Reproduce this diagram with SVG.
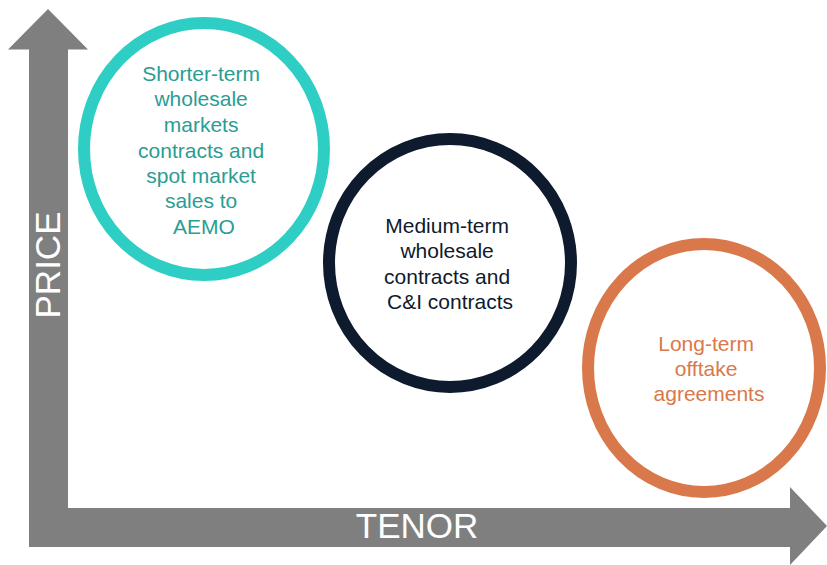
<svg xmlns="http://www.w3.org/2000/svg" width="827" height="565" viewBox="0 0 827 565">
<style>
.ring{fill:#fff;stroke-width:12}
.lbl{font-family:"Liberation Sans",Arial,sans-serif;font-size:21px;text-anchor:middle}
.axis{fill:#7f7f7f}
.axl{font-family:"Liberation Sans",Arial,sans-serif;font-size:35px;fill:#fff;text-anchor:middle}
</style>
<rect width="827" height="565" fill="#fff"/>
<g id="axes">
<polygon class="axis" points="48,9 88,49.5 68,49.5 68,508 790,508 790,487 827,526 790,565 790,547 29,547 29,49.5 8,49.5"/>
<text class="axl" transform="translate(60,265) rotate(-90)">PRICE</text>
<text class="axl" x="417" y="538">TENOR</text>
</g>
<g id="connectors"></g>
<g id="short-term">
<ellipse class="ring" cx="204" cy="149" rx="120" ry="126" stroke="#2ecec4"/>
<text class="lbl" fill="#2a9d94">
<tspan x="204" y="81">Shorter-term</tspan>
<tspan x="204" y="106">wholesale</tspan>
<tspan x="204" y="132">markets</tspan>
<tspan x="204" y="158">contracts and</tspan>
<tspan x="204" y="183">spot market</tspan>
<tspan x="204" y="208">sales to</tspan>
<tspan x="204" y="234">AEMO</tspan>
</text>
</g>
<g id="medium-term">
<ellipse class="ring" cx="450" cy="263" rx="121" ry="124" stroke="#0e1a2d"/>
<text class="lbl" fill="#0e1a2d">
<tspan x="450" y="233">Medium-term</tspan>
<tspan x="450" y="258">wholesale</tspan>
<tspan x="450" y="284">contracts and</tspan>
<tspan x="450" y="309">C&amp;I contracts</tspan>
</text>
</g>
<g id="long-term">
<ellipse class="ring" cx="704" cy="368" rx="116" ry="124" stroke="#d9794b"/>
<text class="lbl" fill="#d9794b">
<tspan x="709" y="351">Long-term</tspan>
<tspan x="709" y="376">offtake</tspan>
<tspan x="709" y="401">agreements</tspan>
</text>
</g>
</svg>
